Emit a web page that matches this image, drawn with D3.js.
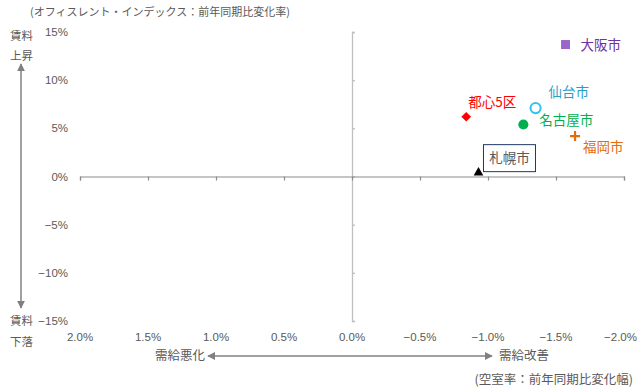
<!DOCTYPE html>
<html>
<head>
<meta charset="utf-8">
<script src="https://cdn.jsdelivr.net/npm/d3@7"></script>
<style>
  body { margin: 0; background: #fff; }
  svg { display: block; }
</style>
</head>
<body>
<div id="chart"></div>
<script>
// data
const cities = ["都心5区", "札幌市", "仙台市", "名古屋市", "大阪市", "福岡市"];
const vacancyChange = [-0.84, -0.93, -1.35, -1.26, -1.57, -1.64];
const rentChange = [6.2, 0.4, 7.1, 5.4, 13.7, 4.2];
const xTicks = [2.0, 1.5, 1.0, 0.5, 0.0, -0.5, -1.0, -1.5, -2.0];
const yTicks = [15, 10, 5, 0, -5, -10, -15];

const fmtX = d => (d < 0 ? "\u2212" + (-d).toFixed(1) : d.toFixed(1)) + "%";
const fmtY = d => (d < 0 ? "\u2212" + (-d) : d) + "%";

const width = 638, height = 392;
const jp = "'Noto Sans CJK JP', 'Noto Sans', sans-serif";
const narrow = "'Liberation Sans Narrow', 'Arial Narrow', 'Liberation Sans', sans-serif";
const grey = "#595959";

const svg = d3.select("#chart")
    .append("svg")
    .attr("width", width)
    .attr("height", height);

const x = d3.scaleLinear().domain([2, -2]).range([80, 624]);
const y = d3.scaleLinear().domain([-15, 15]).range([321, 32]);

// arrow markers
const defs = svg.append("defs");
defs.append("marker")
    .attr("id", "arr")
    .attr("viewBox", "0 0 10 10")
    .attr("refX", 9).attr("refY", 5)
    .attr("markerWidth", 8).attr("markerHeight", 8)
    .attr("markerUnits", "userSpaceOnUse")
    .attr("orient", "auto-start-reverse")
    .append("path")
    .attr("d", "M0,0 L10,5 L0,10 Z")
    .attr("fill", "#808080");

// vertical axis (through 0.0%)
const yAxis = svg.append("g")
    .attr("transform", `translate(${x(0)},0)`)
    .call(d3.axisRight(y).tickValues(yTicks).tickSize(3).tickSizeOuter(3).tickFormat(""));
yAxis.selectAll("path, line").attr("stroke", "#bfbfbf").attr("stroke-width", 1.3);

// horizontal axis (through 0%)
const xAxis = svg.append("g")
    .attr("transform", `translate(0,${y(0)})`)
    .call(d3.axisBottom(x).tickValues(xTicks).tickSize(4).tickSizeOuter(4).tickFormat(""));
xAxis.selectAll("path, line").attr("stroke", "#8c8c8c").attr("stroke-width", 1.2);

// tick labels
svg.append("g").selectAll("text")
    .data(yTicks)
    .enter().append("text")
    .attr("x", 68)
    .attr("y", d => y(d))
    .attr("dy", "0.35em")
    .attr("text-anchor", "end")
    .style("font-family", narrow)
    .style("font-size", "11.5px")
    .style("fill", grey)
    .text(fmtY);

svg.append("g").selectAll("text")
    .data(xTicks)
    .enter().append("text")
    .attr("x", (d, i) => i === xTicks.length - 1 ? 637 : x(d))
    .attr("y", 337)
    .attr("dy", "0.35em")
    .attr("text-anchor", (d, i) => i === xTicks.length - 1 ? "end" : "middle")
    .style("font-family", narrow)
    .style("font-size", "11.5px")
    .style("fill", grey)
    .text(fmtX);

// title and axis notes
function note(tx, ty, str, anchor, size) {
    svg.append("text")
        .attr("x", tx).attr("y", ty)
        .attr("dy", "0.35em")
        .attr("text-anchor", anchor || "start")
        .style("font-family", jp)
        .style("font-size", size || "11.5px")
        .style("fill", grey)
        .text(str);
}
note(30, 12, "(オフィスレント・インデックス：前年同期比変化率)", "start", "11px");
note(10, 36, "賃料");
note(10, 56, "上昇");
note(10, 321, "賃料");
note(10, 342, "下落");
note(205, 356, "需給悪化", "end", "12.5px");
note(499, 356, "需給改善", "start", "12.5px");
note(633, 380, "(空室率：前年同期比変化幅)", "end", "12.5px");

svg.append("line")
    .attr("x1", 21).attr("x2", 21)
    .attr("y1", 64).attr("y2", 308)
    .attr("stroke", "#808080").attr("stroke-width", 1.5)
    .attr("marker-start", "url(#arr)")
    .attr("marker-end", "url(#arr)");

svg.append("line")
    .attr("x1", 208).attr("x2", 492)
    .attr("y1", 356).attr("y2", 356)
    .attr("stroke", "#808080").attr("stroke-width", 1.5)
    .attr("marker-start", "url(#arr)")
    .attr("marker-end", "url(#arr)");

// point styles
const style = {
    "都心5区": {sym: d3.symbolDiamond2, size: 60, fill: "#ff0000", stroke: "none", text: "#ff0000", dx: 2, dy: -15},
    "札幌市": {sym: d3.symbolTriangle, size: 40, fill: "#000000", stroke: "none", text: grey, dx: 0, dy: 0},
    "仙台市": {sym: d3.symbolCircle, size: 80, fill: "#ffffff", stroke: "#2ec4f0", text: "#2a9dc6", dx: 13, dy: -16},
    "名古屋市": {sym: d3.symbolCircle, size: 80, fill: "#00b050", stroke: "none", text: "#00b050", dx: 16, dy: -4},
    "大阪市": {sym: d3.symbolSquare, size: 80, fill: "#9966cc", stroke: "none", text: "#7030a0", dx: 15, dy: 1},
    "福岡市": {sym: null, size: 0, fill: "none", stroke: "#e46c0a", text: "#e46c0a", dx: 8, dy: 11}
};

const points = cities.map((c, i) => ({city: c, vx: vacancyChange[i], vy: rentChange[i]}));

const pts = svg.append("g").selectAll("g")
    .data(points)
    .enter().append("g")
    .attr("transform", d => `translate(${x(d.vx)},${y(d.vy)})`);

pts.each(function(d) {
    const s = style[d.city];
    const g = d3.select(this);
    if (!s.sym) {
        // plus marker
        g.append("path")
            .attr("d", "M-5,0 L5,0 M0,-5 L0,5")
            .attr("stroke", s.stroke)
            .attr("stroke-width", 2.2);
    } else {
        g.append("path")
            .attr("d", d3.symbol().type(s.sym).size(s.size)())
            .attr("fill", s.fill)
            .attr("stroke", s.stroke)
            .attr("stroke-width", 2);
    }
    if (d.city === "札幌市") {
        const box = g.append("g").attr("transform", "translate(5,-28)");
        box.append("rect")
            .attr("width", 52).attr("height", 27)
            .attr("fill", "#ffffff")
            .attr("stroke", "#1f3864")
            .attr("stroke-width", 1);
        box.append("text")
            .attr("x", 26).attr("y", 14)
            .attr("dy", "0.35em")
            .attr("text-anchor", "middle")
            .style("font-family", jp)
            .style("font-size", "13.5px")
            .style("fill", s.text)
            .text(d.city);
    } else {
        g.append("text")
            .attr("x", s.dx).attr("y", s.dy)
            .attr("dy", "0.35em")
            .style("font-family", jp)
            .style("font-size", "13.5px")
            .style("fill", s.text)
            .text(d.city);
    }
});
</script>
</body>
</html>
